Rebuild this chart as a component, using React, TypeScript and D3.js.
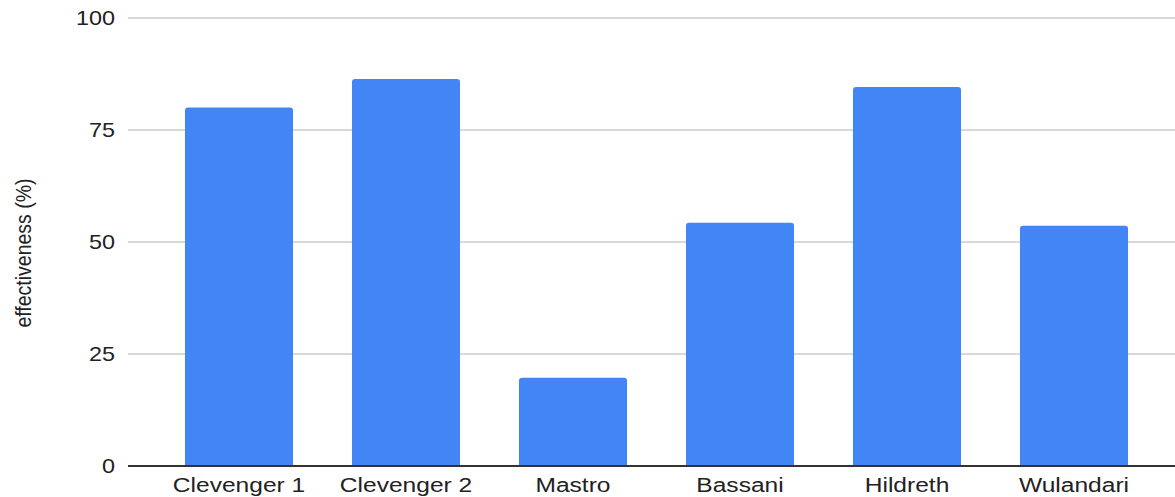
import React, { useEffect, useRef } from 'react';
import * as d3 from 'd3';

const categories = ['Clevenger 1', 'Clevenger 2', 'Mastro', 'Bassani', 'Hildreth', 'Wulandari'];
const effectiveness = [80, 86.4, 19.7, 54.3, 84.6, 53.6];
const yTicks = [0, 25, 50, 75, 100];

const W = 1175;
const H = 497;
const SX = 1.17; // the reference is stretched a little horizontally

export default function App() {
  const svgRef = useRef<SVGSVGElement>(null);

  useEffect(() => {
    if (!svgRef.current) return;
    const svg = d3.select(svgRef.current);
    svg.selectAll('*').remove();

    const left = 128;
    const top = 18;
    const bottom = 466;

    const x = d3.scaleBand<string>()
      .domain(categories)
      .range([155.5, 1157.5])
      .paddingInner(0.353)
      .paddingOuter(0.1765);

    const y = d3.scaleLinear().domain([0, 100]).range([bottom, top]);

    // gridlines
    svg.append('g')
      .selectAll('line')
      .data(yTicks.filter(t => t > 0))
      .join('line')
      .attr('x1', left)
      .attr('x2', W)
      .attr('y1', d => y(d))
      .attr('y2', d => y(d))
      .attr('stroke', '#cccccc')
      .attr('stroke-width', 1.3);

    // tick labels
    svg.append('g')
      .selectAll('text')
      .data(yTicks)
      .join('text')
      .attr('transform', d => `translate(115,${y(d)}) scale(${SX},1)`)
      .attr('text-anchor', 'end')
      .attr('dy', '0.35em')
      .style('font-family', '"Liberation Sans", Arial, sans-serif')
      .style('font-size', '20px')
      .style('fill', '#222')
      .text(d => d);

    // bars, slightly rounded top corners
    const r = 3;
    svg.append('g')
      .selectAll('path')
      .data(categories.map((c, i) => ({ c, v: effectiveness[i] })))
      .join('path')
      .attr('d', d => {
        const x0 = x(d.c)!;
        const x1 = x0 + x.bandwidth();
        const yt = y(d.v);
        const p = d3.path();
        p.moveTo(x0, bottom);
        p.lineTo(x0, yt + r);
        p.quadraticCurveTo(x0, yt, x0 + r, yt);
        p.lineTo(x1 - r, yt);
        p.quadraticCurveTo(x1, yt, x1, yt + r);
        p.lineTo(x1, bottom);
        p.closePath();
        return p.toString();
      })
      .attr('fill', '#4285f4');

    // baseline
    svg.append('line')
      .attr('x1', left)
      .attr('x2', W)
      .attr('y1', y(0))
      .attr('y2', y(0))
      .attr('stroke', '#333333')
      .attr('stroke-width', 2);

    // category labels
    svg.append('g')
      .selectAll('text')
      .data(categories)
      .join('text')
      .attr('transform', d => `translate(${x(d)! + x.bandwidth() / 2},492) scale(${SX},1)`)
      .attr('text-anchor', 'middle')
      .style('font-family', '"Liberation Sans", Arial, sans-serif')
      .style('font-size', '21px')
      .style('fill', '#222')
      .text(d => d);

    // y title
    svg.append('text')
      .attr('transform', `translate(31,253) scale(${SX},1) rotate(-90)`)
      .attr('text-anchor', 'middle')
      .style('font-family', '"Liberation Sans", Arial, sans-serif')
      .style('font-size', '19.5px')
      .style('fill', '#222')
      .text('effectiveness (%)');
  }, []);

  return (
    <svg
      ref={svgRef}
      width={W}
      height={H}
      style={{ position: 'absolute', left: 0, top: 0, background: '#fff' }}
    />
  );
}
